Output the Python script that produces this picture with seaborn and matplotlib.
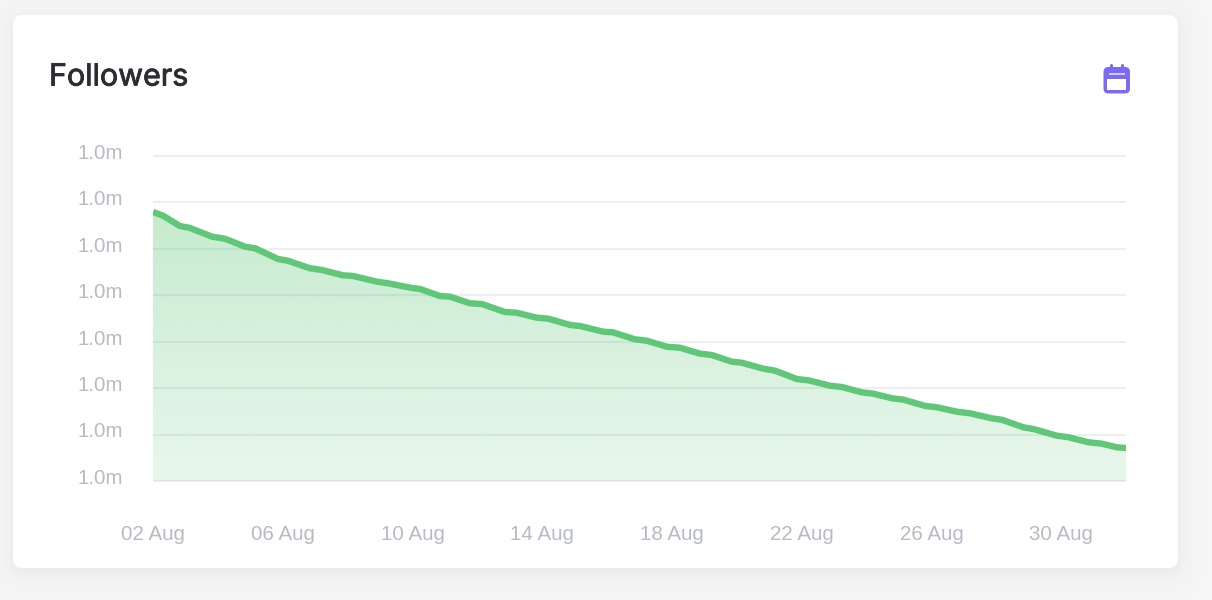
import numpy as np
import pandas as pd
import matplotlib
matplotlib.use("Agg")
import matplotlib.pyplot as plt
import matplotlib.dates as mdates
import matplotlib.patheffects as pe
import matplotlib.transforms as mt
from matplotlib.patches import FancyBboxPatch, Rectangle, PathPatch
from matplotlib.path import Path
import seaborn as sns

title = "Followers"
start_date = "2024-08-02"
# days since the start and followers above one million, both
days = [0, .31, .83, 1.14, 1.82, 2.22, 2.84, 3.15, 3.85, 4.16, 4.84, 5.21, 5.86, 6.17, 6.91, 7.25,
        7.99, 8.23, 8.85, 9.16, 9.77, 10.14, 10.85, 11.21, 11.83, 12.19, 12.86, 13.17, 13.88, 14.18,
        14.86, 15.22, 15.84, 16.25, 16.87, 17.23, 17.84, 18.15, 18.82, 19.18, 19.85, 20.21, 20.88,
        21.24, 21.85, 22.21, 22.78, 23.14, 23.81, 24.17, 24.79, 25.19, 25.86, 26.17, 26.84, 27.14,
        27.87, 28.23, 28.84, 29.25, 29.72, 30]
followers = [28.97, 28.57, 27.46, 27.25, 26.31, 26.09, 25.23, 25.06, 23.91, 23.72, 22.91, 22.72,
             22.15, 22.08, 21.46, 21.29, 20.78, 20.68, 19.92, 19.85, 19.14, 19.06, 18.20, 18.12,
             17.59, 17.48, 16.80, 16.69, 16.08, 16.01, 15.26, 15.11, 14.46, 14.35, 13.71, 13.57,
             12.85, 12.74, 12.09, 11.88, 10.98, 10.84, 10.26, 10.12, 9.55, 9.40, 8.91, 8.76,
             8.08, 7.94, 7.46, 7.29, 6.75, 6.60, 5.78, 5.60, 4.88, 4.71, 4.17, 4.02, 3.63, 3.55]
base = 1_000_000
y_ticks = [0, 5, 10, 15, 20, 25, 30, 35]
x_tick_dates = ["2024-08-02", "2024-08-06", "2024-08-10", "2024-08-14",
                "2024-08-18", "2024-08-22", "2024-08-26", "2024-08-30"]

W, H = 1212, 600
sns.set_theme(style="white")
plt.rcParams["font.family"] = ["Liberation Sans", "DejaVu Sans"]
fig = plt.figure(figsize=(W / 100, H / 100), dpi=100, facecolor="#f6f6f7")

# page layer in pixel coordinates
bg = fig.add_axes([0, 0, 1, 1], zorder=0)
bg.set_xlim(0, W); bg.set_ylim(H, 0); bg.axis("off")
for grow, a in [(26, .004), (20, .004), (14, .005), (10, .005), (7, .005), (4, .006), (2, .006)]:
    bg.add_patch(FancyBboxPatch((13 - grow, 15 - grow + 4), 1165 + 2 * grow, 553 + 2 * grow,
                                boxstyle=f"round,pad=0,rounding_size={12 + grow}",
                                fc="black", ec="none", alpha=a))
bg.add_patch(FancyBboxPatch((13, 15), 1165, 553, boxstyle="round,pad=0,rounding_size=10",
                            fc="white", ec="none"))
bg.text(49, 77.5, title, fontsize=21.9, family="Inter", color="#2b2d33", va="center", ha="left",
        path_effects=[pe.withStroke(linewidth=0.6, foreground="#2b2d33")])
# calendar icon
ic = "#7a6bf0"
bg.add_patch(FancyBboxPatch((1103.5, 67), 26.5, 26.5, boxstyle="round,pad=0,rounding_size=5",
                            fc=ic, ec="none"))
bg.add_patch(Rectangle((1107, 78.5), 19, 11.5, fc="white", ec="none"))
bg.add_patch(Rectangle((1108.5, 72.5), 16, 2, fc="#cfc9f8", ec="none"))
for xx in (1110.8, 1121.8):
    bg.plot([xx, xx], [65, 71], color=ic, lw=2.2, solid_capstyle="round")

# chart
L, R, T, B = 153, 1126, 156, 481
ax = fig.add_axes([L / W, 1 - B / H, (R - L) / W, (B - T) / H], zorder=1, facecolor="none")
stamps = pd.Timestamp(start_date) + pd.to_timedelta(days, unit="D")
df = pd.DataFrame({"date": stamps, "followers": [base + v for v in followers]})
xs = mdates.date2num(df["date"])
x0, x1 = xs[0], xs[-1]
ax.set_xlim(x0, x1)
ax.set_ylim(base + y_ticks[0], base + y_ticks[-1])

for t in y_ticks:
    ax.axhline(base + t, color="#eceef1", lw=1.5, zorder=1, clip_on=False, solid_capstyle="butt")

# gradient area under the line
grad = np.zeros((256, 1, 4))
grad[..., 0], grad[..., 1], grad[..., 2] = 0x5f / 255, 0xc7 / 255, 0x76 / 255
grad[..., 3] = np.linspace(0.40, 0.14, 256)[:, None]
im = ax.imshow(grad, extent=[x0, x1, base + y_ticks[0], base + y_ticks[-1]],
               aspect="auto", origin="upper", zorder=2, interpolation="bilinear")
verts = [(x0, base)] + list(zip(xs, df["followers"])) + [(x1, base), (x0, base)]
im.set_clip_path(PathPatch(Path(verts), transform=ax.transData))

sns.lineplot(data=df, x="date", y="followers", ax=ax, color="#5fc777", lw=4.6,
             zorder=3, solid_joinstyle="round", solid_capstyle="butt", errorbar=None)
ax.set_xlabel(""); ax.set_ylabel("")
ax.set_xlim(x0, x1)
ax.set_ylim(base + y_ticks[0], base + y_ticks[-1])

for s in ax.spines.values():
    s.set_visible(False)
ax.set_yticks([base + t for t in y_ticks])
ax.set_yticklabels([f"{(base + t) / 1e6:.1f}m" for t in y_ticks])
ax.set_xticks(mdates.date2num(pd.to_datetime(x_tick_dates)))
ax.set_xticklabels([pd.Timestamp(d).strftime("%d %b") for d in x_tick_dates])
ax.tick_params(axis="y", length=0, pad=21.5, labelsize=14.8, labelcolor="#b8bac5")
ax.tick_params(axis="x", length=0, pad=31.5, labelsize=14.8, labelcolor="#b8bac5")
off = mt.ScaledTranslation(0, 4.6 / 100, fig.dpi_scale_trans)
for lab in ax.get_yticklabels():
    lab.set_transform(lab.get_transform() + off)

fig.savefig("out.png", dpi=100, facecolor=fig.get_facecolor())
